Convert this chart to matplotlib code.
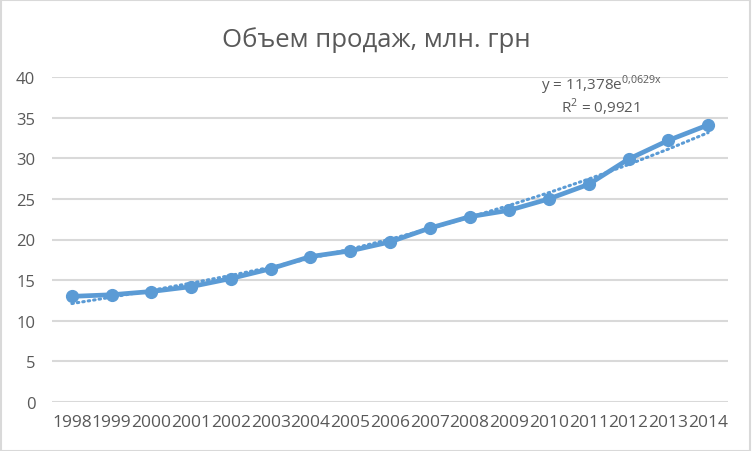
import numpy as np
import matplotlib
matplotlib.use("Agg")
import matplotlib.pyplot as plt
from matplotlib.patches import Rectangle

years = ["1998", "1999", "2000", "2001", "2002", "2003", "2004", "2005", "2006",
         "2007", "2008", "2009", "2010", "2011", "2012", "2013", "2014"]
sales = [13.0, 13.2, 13.6, 14.2, 15.2, 16.4, 17.9, 18.6, 19.7,
         21.4, 22.8, 23.6, 25.0, 26.8, 29.9, 32.2, 34.1]
trend_a = 11.378
trend_b = 0.0629
y_ticks = [0, 5, 10, 15, 20, 25, 30, 35, 40]

title = "Объем продаж, млн. грн"
blue = "#5B9BD5"
grid = "#D9D9D9"
txt = "#595959"

plt.rcParams['font.family'] = ['Open Sans', 'DejaVu Sans']
plt.rcParams['mathtext.fontset'] = 'custom'
plt.rcParams['mathtext.rm'] = 'Open Sans'

fig = plt.figure(figsize=(7.52, 4.52), dpi=100)
fig.patches.append(Rectangle((0.001, 0.001), 0.997, 0.996, transform=fig.transFigure,
                             fill=False, edgecolor=grid, linewidth=1.5))
ax = fig.add_axes([52/752, (452-403)/452, (728-52)/752, (403-78)/452])

x = np.arange(len(years))
trend_x = x + 1
trend = trend_a * np.exp(trend_b * trend_x)

ax.plot(x, trend, linestyle=(0, (0.5, 1.3)), color=blue, linewidth=2.2,
        dash_capstyle='round', zorder=3)
ax.plot(x, sales, color=blue, linewidth=3.4, marker='o', markersize=8.5,
        zorder=4, solid_capstyle='round', solid_joinstyle='round')

ax.set_xlim(-0.5, len(years) - 0.5)
ax.set_ylim(0, 40)
ax.set_yticks(y_ticks)
ax.set_xticks(x)
ax.set_xticklabels(years)
ax.yaxis.grid(True, color=grid, linewidth=1.5)
ax.set_axisbelow(True)
for s in ax.spines.values():
    s.set_visible(False)
ax.tick_params(axis='both', length=0, colors=txt)
ax.tick_params(axis='y', pad=12, labelsize=12)
ax.tick_params(axis='x', pad=9, labelsize=12.5)

fig.text(0.5, 1 - 40/452, title, ha='center', va='center', fontsize=18.5, color=txt)

ax.text(602/752, 1 - 85/452, "y = 11,378e$^{\\mathrm{0{,}0629x}}$", transform=fig.transFigure,
        ha='center', va='center', fontsize=11, color=txt)
ax.text(600/752, 1 - 107/452, "R$^{\\mathrm{2}}$ = 0,9921", transform=fig.transFigure,
        ha='center', va='center', fontsize=11, color=txt)

fig.savefig("out.png", dpi=100, facecolor='white')
